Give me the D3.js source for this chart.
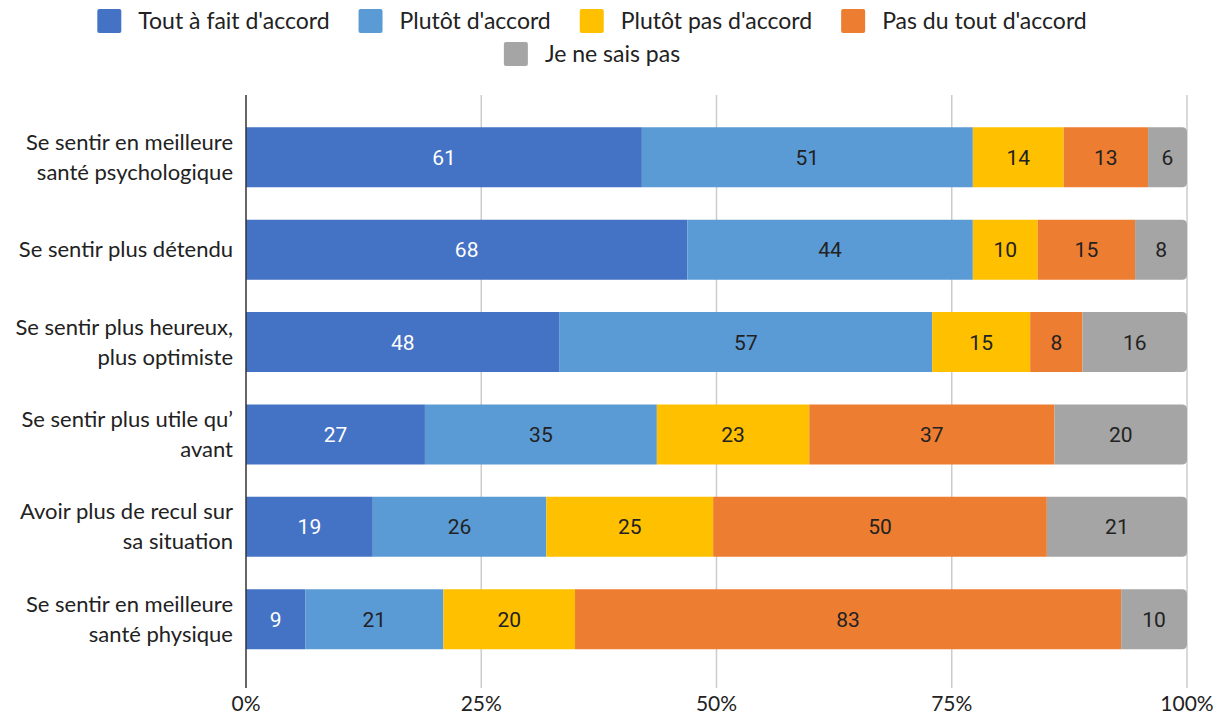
<!DOCTYPE html>
<html>
<head>
<meta charset="utf-8">
<script src="https://cdn.jsdelivr.net/npm/d3@7"></script>
<style>
  body { margin: 0; background: #fff; }
  text { font-family: Lato, "Open Sans", sans-serif; }
</style>
</head>
<body>
<div id="chart"></div>
<script>
const categories = [
  ["Se sentir en meilleure", "santé psychologique"],
  ["Se sentir plus détendu"],
  ["Se sentir plus heureux,", "plus optimiste"],
  ["Se sentir plus utile qu’", "avant"],
  ["Avoir plus de recul sur", "sa situation"],
  ["Se sentir en meilleure", "santé physique"]
];
const seriesNames = ["Tout à fait d'accord", "Plutôt d'accord", "Plutôt pas d'accord", "Pas du tout d'accord", "Je ne sais pas"];
const toutAFait   = [61, 68, 48, 27, 19, 9];
const plutot      = [51, 44, 57, 35, 26, 21];
const plutotPas   = [14, 10, 15, 23, 25, 20];
const pasDuTout   = [13, 15, 8, 37, 50, 83];
const neSaisPas   = [6, 8, 16, 20, 21, 10];
const tickLabels  = ["0%", "25%", "50%", "75%", "100%"];

const colors = ["#4472c4", "#5b9bd5", "#ffc000", "#ed7d31", "#a5a5a5"];
const labelColors = ["#ffffff", "#222222", "#222222", "#222222", "#222222"];

const W = 1219, H = 715;
const svg = d3.select('#chart').append('svg').attr('width', W).attr('height', H);

const series = [toutAFait, plutot, plutotPas, pasDuTout, neSaisPas];
const rows = categories.map((c, i) => {
  const vals = series.map(s => s[i]);
  const total = d3.sum(vals);
  let acc = 0;
  const segs = vals.map((v, k) => {
    const s = { k: k, v: v, x0: acc / total, x1: (acc + v) / total };
    acc += v;
    return s;
  });
  return { i: i, label: c, segs: segs };
});

const x = d3.scaleLinear().domain([0, 1]).range([246, 1187]);
const y = d3.scaleBand().domain(d3.range(categories.length)).range([95, 681.5]).padding(0.35);

// gridlines
svg.append('g').selectAll('line')
  .data([0.25, 0.5, 0.75, 1])
  .join('line')
  .attr('x1', d => x(d)).attr('x2', d => x(d))
  .attr('y1', 95).attr('y2', 688)
  .attr('stroke', '#cccccc').attr('stroke-width', 1.5);

// tick labels
svg.append('g').selectAll('text')
  .data(tickLabels)
  .join('text')
  .attr('x', (d, i) => x(i / 4))
  .attr('y', 711)
  .attr('text-anchor', 'middle')
  .attr('font-size', 21)
  .attr('fill', '#222')
  .text(d => d);

// bars
const rowG = svg.append('g').selectAll('g')
  .data(rows)
  .join('g')
  .attr('transform', d => `translate(0,${y(d.i)})`);

const bh = y.bandwidth();
const r = 5;
rowG.selectAll('path')
  .data(d => d.segs)
  .join('path')
  .attr('fill', d => colors[d.k])
  .attr('d', d => {
    const a = x(d.x0), b = x(d.x1);
    if (d.k === 4) {
      return `M${a},0H${b - r}Q${b},0 ${b},${r}V${bh - r}Q${b},${bh} ${b - r},${bh}H${a}Z`;
    }
    return `M${a},0H${b}V${bh}H${a}Z`;
  });

rowG.selectAll('text.val')
  .data(d => d.segs)
  .join('text')
  .attr('class', 'val')
  .attr('x', d => (x(d.x0) + x(d.x1)) / 2)
  .attr('y', bh / 2 + 7.5)
  .attr('text-anchor', 'middle')
  .attr('font-size', 21)
  .style('font-family', 'Roboto, sans-serif')
  .attr('fill', d => labelColors[d.k])
  .text(d => d.v);

// category labels
rowG.each(function (d) {
  const t = d3.select(this).append('text')
    .attr('text-anchor', 'end')
    .attr('font-size', 22)
    .attr('fill', '#222');
  const n = d.label.length;
  d.label.forEach((line, j) => {
    t.append('tspan')
      .attr('x', 233)
      .attr('y', bh / 2 + 7.5 + (j - (n - 1) / 2) * 30)
      .text(line);
  });
});

// axis line
svg.append('line')
  .attr('x1', x(0)).attr('x2', x(0))
  .attr('y1', 95).attr('y2', 688)
  .attr('stroke', '#333').attr('stroke-width', 1.5);

// legend
const legendRows = [[0, 1, 2, 3], [4]];
const legendY = [21, 54];
legendRows.forEach((items, ri) => {
  const g = svg.append('g');
  let cx = 0;
  items.forEach((k, j) => {
    g.append('rect')
      .attr('x', cx).attr('y', legendY[ri] - 12)
      .attr('width', 24).attr('height', 24)
      .attr('rx', 2)
      .attr('fill', colors[k]);
    const t = g.append('text')
      .attr('x', cx + 41).attr('y', legendY[ri] + 8)
      .attr('font-size', 23)
      .attr('fill', '#222')
      .text(seriesNames[k]);
    cx += 41 + t.node().getComputedTextLength() + 29;
  });
  const total = cx - 29;
  g.attr('transform', `translate(${592 - total / 2},0)`);
});
</script>
</body>
</html>
